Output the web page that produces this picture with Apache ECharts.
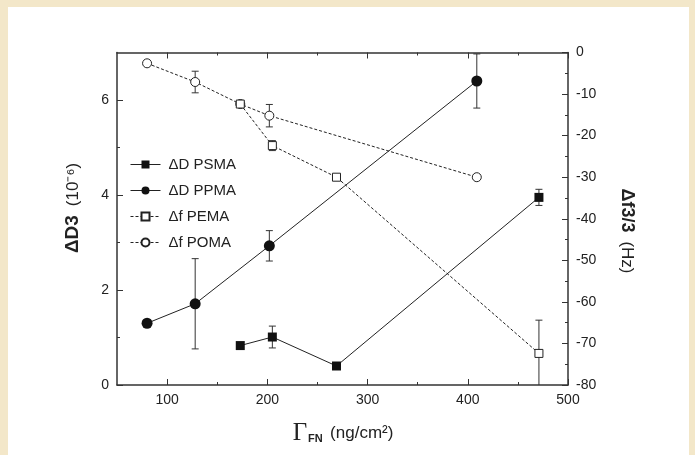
<!DOCTYPE html>
<html>
<head>
<meta charset="utf-8">
<script src="https://cdn.jsdelivr.net/npm/echarts@6/dist/echarts.min.js"></script>
<style>
  html, body { margin: 0; padding: 0; background: #f3e7c9; }
  #chart { width: 695px; height: 455px; }
</style>
</head>
<body>
<div id="chart"></div>
<script>
// data
var names = ['ΔD PSMA', 'ΔD PPMA', 'Δf PEMA', 'Δf POMA'];

var psmaX = [173, 205, 269, 471];
var psmaY = [0.83, 1.01, 0.40, 3.95];
var psmaErr = [0, 0.23, 0, 0.17];

var ppmaX = [80, 128, 202, 409];
var ppmaY = [1.30, 1.71, 2.93, 6.40];
var ppmaErr = [0, 0.95, 0.32, 0.57];

var pemaX = [173, 205, 269, 471];
var pemaY = [-12.4, -22.4, -30.0, -72.4];
var pemaErr = [0, 1.2, 0, 8.0];

var pomaX = [80, 128, 173, 202, 409];
var pomaY = [-2.6, -7.1, -12.4, -15.2, -30.0];
var pomaErr = [0, 2.6, 0, 2.7, 0.5];

var xMajor = [100, 200, 300, 400, 500];
var xMinor = [150, 250, 350, 450];
var leftMajor = [0, 2, 4, 6];
var leftMinor = [1, 3, 5];

var font = 'Liberation Sans, Arial, sans-serif';
var axisCol = '#333';

function pairs(xs, ys) {
  return xs.map(function (x, i) { return [x, ys[i]]; });
}
function errData(xs, ys, es) {
  var out = [];
  xs.forEach(function (x, i) {
    if (es[i] > 0) out.push([x, ys[i] - es[i], ys[i] + es[i]]);
  });
  return out;
}
function errBar(params, api) {
  var x = api.value(0);
  var top = api.coord([x, api.value(2)]);
  var bot = api.coord([x, api.value(1)]);
  var w = 3.5;
  var st = { stroke: '#333', lineWidth: 1 };
  return {
    type: 'group',
    children: [
      { type: 'line', shape: { x1: top[0], y1: top[1], x2: bot[0], y2: bot[1] }, style: st },
      { type: 'line', shape: { x1: top[0] - w, y1: top[1], x2: top[0] + w, y2: top[1] }, style: st },
      { type: 'line', shape: { x1: bot[0] - w, y1: bot[1], x2: bot[0] + w, y2: bot[1] }, style: st }
    ]
  };
}
function errSeries(xs, ys, es, yIdx) {
  return {
    type: 'custom', renderItem: errBar, xAxisIndex: 0, yAxisIndex: yIdx,
    encode: { x: 0, y: [1, 2] }, data: errData(xs, ys, es), clip: true, z: 1, silent: true
  };
}
function xAx(pos, ticks, len, showLine, labels) {
  return {
    type: 'value', position: pos, min: 50, max: 500, gridIndex: 0,
    axisLine: { show: showLine, onZero: false, lineStyle: { color: axisCol, width: 1.5 } },
    axisTick: { show: true, inside: true, length: len, customValues: ticks, lineStyle: { color: axisCol, width: 1 } },
    axisLabel: labels ? { show: true, customValues: xMajor, fontSize: 14, fontFamily: font, color: '#222', margin: 8 } : { show: false },
    splitLine: { show: false }
  };
}

var chart = echarts.init(document.getElementById('chart'));
var option = {
  animation: false,
  grid: { left: 117, right: 127, top: 52.5, bottom: 70 },
  graphic: [
    { type: 'rect', z: -10, shape: { x: 8, y: 7, width: 681, height: 460 }, style: { fill: '#ffffff' } },
    {
      type: 'text', x: 343, y: 433,
      style: {
        text: '{g|Γ}{s|FN} {n|(ng/cm²)}', align: 'center', verticalAlign: 'middle',
        rich: {
          g: { fontFamily: 'Liberation Serif, serif', fontSize: 25, fill: '#222' },
          s: { fontFamily: font, fontSize: 11, fontWeight: 'bold', fill: '#222', padding: [12, 4, 0, 1] },
          n: { fontFamily: font, fontSize: 17, fill: '#222' }
        }
      }
    },
    {
      type: 'text', x: 73, y: 208, rotation: Math.PI / 2,
      style: {
        text: '{b|ΔD3}{n|(10⁻⁶)}', align: 'center', verticalAlign: 'middle',
        rich: {
          b: { fontFamily: font, fontSize: 19, fontWeight: 'bold', fill: '#222', padding: [0, 9, 0, 0] },
          n: { fontFamily: font, fontSize: 17, fill: '#222' }
        }
      }
    },
    {
      type: 'text', x: 627, y: 231, rotation: -Math.PI / 2,
      style: {
        text: '{b|Δf3/3}{n|(Hz)}', align: 'center', verticalAlign: 'middle',
        rich: {
          b: { fontFamily: font, fontSize: 18, fontWeight: 'bold', fill: '#222', padding: [0, 9, 0, 0] },
          n: { fontFamily: font, fontSize: 17, fill: '#222' }
        }
      }
    }
  ],
  legend: {
    orient: 'vertical', left: 125, top: 152, itemWidth: 30, itemHeight: 10, itemGap: 11,
    data: names,
    lineStyle: { width: 1 },
    textStyle: { fontSize: 15, fontFamily: font, color: '#222', padding: [0, 0, 0, 3] }
  },
  xAxis: [
    xAx('bottom', xMajor, 6, true, true),
    xAx('bottom', xMinor, 3, false, false),
    xAx('top', xMajor, 6, true, false),
    xAx('top', xMinor, 3, false, false)
  ],
  yAxis: [
    {
      type: 'value', position: 'left', min: 0, max: 7,
      axisLine: { show: true, onZero: false, lineStyle: { color: axisCol, width: 1.5 } },
      axisTick: { inside: true, length: 6, customValues: leftMajor, lineStyle: { color: axisCol } },
      axisLabel: { customValues: leftMajor, fontSize: 14, fontFamily: font, color: '#222', margin: 8 },
      splitLine: { show: false }
    },
    {
      type: 'value', position: 'right', min: -80, max: 0, interval: 10,
      axisLine: { show: true, onZero: false, lineStyle: { color: axisCol, width: 1.5 } },
      axisTick: { inside: true, length: 6, lineStyle: { color: axisCol } },
      minorTick: { show: true, splitNumber: 2, length: 3, lineStyle: { color: axisCol } },
      axisLabel: { fontSize: 14, fontFamily: font, color: '#222', margin: 8 },
      splitLine: { show: false }, minorSplitLine: { show: false }
    },
    {
      type: 'value', position: 'left', min: 0, max: 7,
      axisLine: { show: false, onZero: false },
      axisTick: { inside: true, length: 3, customValues: leftMinor, lineStyle: { color: axisCol } },
      axisLabel: { show: false },
      splitLine: { show: false }
    }
  ],
  series: [
    errSeries(psmaX, psmaY, psmaErr, 0),
    errSeries(ppmaX, ppmaY, ppmaErr, 0),
    errSeries(pemaX, pemaY, pemaErr, 1),
    errSeries(pomaX, pomaY, pomaErr, 1),
    {
      name: names[3], type: 'line', xAxisIndex: 0, yAxisIndex: 1, data: pairs(pomaX, pomaY),
      symbol: 'circle', symbolSize: 9, z: 3,
      lineStyle: { color: '#222', width: 1, type: [3, 2] },
      itemStyle: { color: '#fff', borderColor: '#222', borderWidth: 1 }
    },
    {
      name: names[2], type: 'line', xAxisIndex: 0, yAxisIndex: 1, data: pairs(pemaX, pemaY),
      symbol: 'rect', symbolSize: 8, z: 4,
      lineStyle: { color: '#222', width: 1, type: [3, 2] },
      itemStyle: { color: '#fff', borderColor: '#222', borderWidth: 1 }
    },
    {
      name: names[0], type: 'line', xAxisIndex: 0, yAxisIndex: 0, data: pairs(psmaX, psmaY),
      symbol: 'rect', symbolSize: 9, z: 5,
      lineStyle: { color: '#222', width: 1 },
      itemStyle: { color: '#111', borderWidth: 0 }
    },
    {
      name: names[1], type: 'line', xAxisIndex: 0, yAxisIndex: 0, data: pairs(ppmaX, ppmaY),
      symbol: 'circle', symbolSize: 11, z: 5,
      lineStyle: { color: '#222', width: 1 },
      itemStyle: { color: '#111', borderWidth: 0 }
    }
  ]
};
chart.setOption(option);
</script>
</body>
</html>
